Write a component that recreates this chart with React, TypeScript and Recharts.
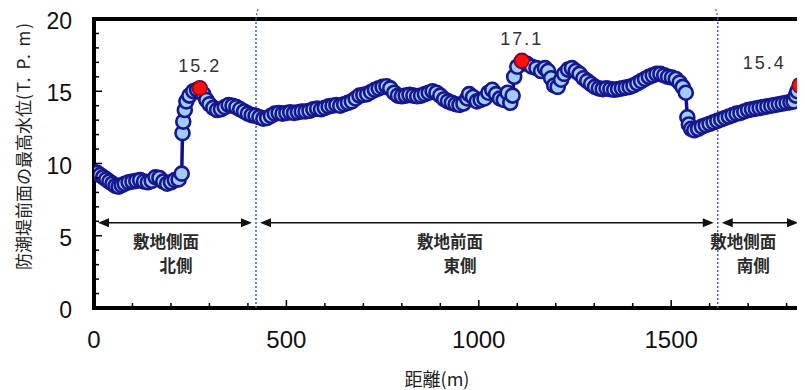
import React from 'react';
import { LineChart, Line, XAxis, YAxis, ReferenceArea, ReferenceLine, ReferenceDot } from 'recharts';

// distance along the seawall (m)
const distances = [
  0, 8, 16, 24, 32, 40, 48, 56, 64, 72, 80, 90, 100, 110, 120, 130, 140, 150, 160, 170,
  180, 190, 200, 210, 220, 228, 230, 232, 236, 240, 248, 258, 268, 275, 284, 292, 300, 310, 320, 330,
  340, 350, 360, 370, 380, 390, 400, 410, 420, 430, 440, 450, 460, 470, 480, 490, 500, 510, 520, 530,
  540, 550, 560, 570, 580, 590, 600, 610, 620, 630, 640, 650, 660, 670, 680, 690, 700, 710, 720, 730,
  740, 750, 760, 770, 780, 790, 800, 810, 820, 830, 840, 850, 860, 870, 880, 890, 900, 910, 920, 930,
  940, 950, 960, 970, 975, 985, 995, 1005, 1015, 1025, 1035, 1045, 1055, 1065, 1075, 1082, 1088, 1092, 1100, 1112,
  1125, 1138, 1150, 1162, 1172, 1180, 1188, 1196, 1205, 1214, 1222, 1232, 1242, 1252, 1262, 1272, 1282, 1292, 1302, 1312,
  1322, 1332, 1342, 1352, 1362, 1372, 1382, 1392, 1402, 1412, 1422, 1432, 1442, 1452, 1462, 1472, 1482, 1492, 1502, 1512,
  1522, 1530, 1538, 1542, 1546, 1552, 1560, 1570, 1580, 1590, 1600, 1610, 1620, 1630, 1640, 1650, 1660, 1670, 1680, 1690,
  1700, 1710, 1720, 1730, 1740, 1750, 1760, 1770, 1780, 1790, 1800, 1810, 1818, 1824, 1828, 1834,
];

// maximum water level in front of the seawall (T.P. m)
const levels = [
  9.4, 9.35, 9.2, 9.05, 8.9, 8.75, 8.6, 8.45, 8.4, 8.5, 8.6, 8.7, 8.75, 8.8, 8.85, 8.75, 8.7, 8.8, 9.05, 9.0,
  8.75, 8.6, 8.7, 8.85, 8.9, 9.3, 12.1, 12.9, 13.7, 14.3, 14.7, 15.0, 15.1, 15.2, 14.8, 14.4, 14.1, 13.85, 13.7, 13.75,
  13.9, 14.05, 14.0, 13.9, 13.75, 13.6, 13.45, 13.35, 13.3, 13.2, 13.1, 13.15, 13.3, 13.45, 13.5, 13.45, 13.5, 13.55, 13.5, 13.55,
  13.6, 13.6, 13.65, 13.75, 13.8, 13.75, 13.85, 13.95, 14.0, 14.05, 14.0, 14.1, 14.2, 14.3, 14.5, 14.7, 14.75, 14.8, 14.95, 15.1,
  15.2, 15.3, 15.35, 15.2, 14.9, 14.7, 14.65, 14.7, 14.75, 14.7, 14.65, 14.7, 14.8, 14.9, 15.0, 14.9, 14.7, 14.45, 14.3, 14.2,
  14.1, 14.05, 14.15, 14.5, 14.8, 14.6, 14.3, 14.4, 14.5, 14.9, 15.1, 14.8, 14.5, 14.4, 14.9, 14.2, 14.7, 16.0, 16.7, 17.1,
  16.9, 16.7, 16.6, 16.4, 16.6, 16.4, 15.9, 15.4, 15.3, 15.8, 16.2, 16.5, 16.6, 16.4, 16.2, 15.9, 15.7, 15.5, 15.3, 15.2,
  15.15, 15.2, 15.15, 15.1, 15.15, 15.2, 15.25, 15.3, 15.4, 15.55, 15.7, 15.85, 16.0, 16.1, 16.2, 16.2, 16.1, 16.0, 15.95, 15.85,
  15.6, 15.3, 14.9, 13.2, 12.7, 12.4, 12.3, 12.4, 12.55, 12.65, 12.75, 12.85, 12.95, 13.05, 13.15, 13.25, 13.35, 13.45, 13.5, 13.6,
  13.7, 13.75, 13.8, 13.85, 13.9, 13.95, 14.0, 14.05, 14.1, 14.15, 14.2, 14.25, 14.3, 14.7, 15.0, 15.4,
];

// highlighted maxima
const peakDistances = [275, 1112, 1834];
const peakLevels = [15.2, 17.1, 15.4];

// section boundaries (m) and section names
const sectionBounds = [0, 421, 1621, 1840];
const sectionLine1 = ['敷地側面', '敷地前面', '敷地側面'];
const sectionLine2 = ['北側', '東側', '南側'];
const sectionLabelX = [187, 925, 1687];
const sectionArrowLevel = 5.9;
const sectionLabelLevel = 4.5;

const xTicks = [0, 100, 200, 300, 400, 500, 600, 700, 800, 900, 1000, 1100, 1200, 1300, 1400, 1500, 1600, 1700, 1800];
const xLabelTicks = [0, 500, 1000, 1500];
const yTicks = [0, 1, 2, 3, 4, 5, 6, 7, 8, 9, 10, 11, 12, 13, 14, 15, 16, 17, 18, 19, 20];
const yLabelTicks = [0, 5, 10, 15, 20];

const xTitle = '距離(m)';
const yTitle = '防潮堤前面の最高水位';
const yTitleUnit = '(T. P. m)';

const data = distances.map((d, i) => ({ d, v: levels[i] }));

const NUM_FONT = '"Liberation Sans", Arial, sans-serif';
const JP_FONT = '"Noto Sans CJK JP", "Noto Sans", sans-serif';

const XTick = (p: any) => {
  const { x, y, payload } = p;
  const major = xLabelTicks.includes(payload.value);
  return (
    <g>
      <line x1={x} x2={x} y1={y - 2} y2={y - (major ? 8 : 5)} stroke="#000" strokeWidth={1.5} />
      {major && (
        <text x={x} y={y + 40} textAnchor="middle" fontSize={24} fontFamily={NUM_FONT} fill="#111">
          {payload.value}
        </text>
      )}
    </g>
  );
};

const YTick = (p: any) => {
  const { x, y, payload } = p;
  const major = yLabelTicks.includes(payload.value);
  return (
    <g>
      <line x1={x + 2} x2={x + (major ? 8 : 5)} y1={y} y2={y} stroke="#000" strokeWidth={1.5} />
      {major && (
        <text x={x - 22} y={y + 10} textAnchor="end" fontSize={23} fontFamily={NUM_FONT} fill="#111">
          {payload.value}
        </text>
      )}
    </g>
  );
};

const YTitle = (p: any) => {
  const vb = p.viewBox || { x: 0, y: 0, width: 0, height: 0 };
  const cx = vb.x - 12;
  const cy = vb.y + vb.height / 2 - 18;
  return (
    <text
      x={cx}
      y={cy}
      transform={`rotate(-90, ${cx}, ${cy})`}
      textAnchor="middle"
      dominantBaseline="central"
      fontSize={17}
      fontFamily={JP_FONT}
      fill="#222"
    >
      {yTitle}
      <tspan letterSpacing={2}>{yTitleUnit}</tspan>
    </text>
  );
};

const XTitle = (p: any) => {
  const vb = p.viewBox || { x: 0, y: 0, width: 0, height: 0 };
  return (
    <text
      x={vb.x + vb.width / 2 - 11}
      y={vb.y + 78}
      textAnchor="middle"
      fontSize={18}
      fontFamily={JP_FONT}
      fill="#222"
    >
      {xTitle}
    </text>
  );
};

const DividerShape = (dir: number) => (p: any) => {
  const { x1, y1, x2, y2 } = p;
  const top = Math.min(y1, y2);
  const bottom = Math.max(y1, y2);
  return (
    <g>
      <line x1={x1} x2={x2} y1={bottom} y2={top} stroke="#3a5ccc" strokeWidth={1.5} strokeDasharray="2 2" />
      <path
        d={`M ${x1} ${top} Q ${x1 + dir * 1} ${top - 10} ${x1 + dir * 6} ${top - 20}`}
        fill="none"
        stroke="#3a5ccc"
        strokeWidth={1.2}
        strokeDasharray="2 2"
      />
    </g>
  );
};

const ArrowShape = (p: any) => {
  const { x1, y1, x2 } = p;
  const a = Math.min(x1, x2) + 4;
  const b = Math.max(x1, x2) - 4;
  const y = y1;
  return (
    <g>
      <line x1={a + 6} x2={b - 6} y1={y} y2={y} stroke="#111" strokeWidth={1.5} />
      <polygon points={`${a},${y} ${a + 11},${y - 4.5} ${a + 11},${y + 4.5}`} fill="#111" />
      <polygon points={`${b},${y} ${b - 11},${y - 4.5} ${b - 11},${y + 4.5}`} fill="#111" />
    </g>
  );
};

const SectionLabel = (i: number) => (p: any) => {
  const { cx, cy } = p;
  return (
    <g fontSize={16.5} fontWeight={700} fontFamily={JP_FONT} fill="#2a2a2a" textAnchor="middle">
      <text x={cx} y={cy + 5}>
        {sectionLine1[i]}
      </text>
      <text x={cx + 10} y={cy + 29}>
        {sectionLine2[i]}
      </text>
    </g>
  );
};

const PeakShape = (i: number) => (p: any) => {
  const { cx, cy } = p;
  const atEnd = peakDistances[i] > 1800;
  return (
    <g>
      <circle cx={cx} cy={cy} r={7} fill="#ff1010" stroke="#b00000" strokeWidth={1.5} />
      <text
        x={atEnd ? cx - 14 : cx}
        y={cy - 16}
        textAnchor={atEnd ? 'end' : 'middle'}
        fontSize={18}
        letterSpacing={2}
        fontFamily={NUM_FONT}
        fill="#333"
      >
        {peakLevels[i].toFixed(1)}
      </text>
    </g>
  );
};

export default function App() {
  return (
    <LineChart
      width={797}
      height={382}
      data={data}
      margin={{ top: 11, right: 3, left: 26, bottom: 32 }}
      style={{ overflow: 'visible' }}
    >
      <XAxis
        dataKey="d"
        type="number"
        domain={[0, 1840]}
        ticks={xTicks}
        tick={<XTick />}
        tickSize={0}
        tickMargin={0}
        axisLine={false}
        tickLine={false}
        height={50}
        allowDataOverflow
        interval={0}
        label={<XTitle />}
      />
      <YAxis
        type="number"
        domain={[0, 20]}
        ticks={yTicks}
        tick={<YTick />}
        tickSize={0}
        tickMargin={0}
        axisLine={false}
        tickLine={false}
        width={60}
        interval={0}
        allowDataOverflow
        label={<YTitle />}
      />
      {sectionBounds.slice(1, -1).map((b, i) => (
        <ReferenceLine key={`div${i}`} x={b} ifOverflow="visible" shape={DividerShape(i === 0 ? 1 : -1)} />
      ))}
      {sectionBounds.slice(0, -1).map((b, i) => (
        <ReferenceLine
          key={`arr${i}`}
          segment={[
            { x: b, y: sectionArrowLevel },
            { x: sectionBounds[i + 1], y: sectionArrowLevel },
          ]}
          ifOverflow="visible"
          shape={ArrowShape}
        />
      ))}
      {sectionLabelX.map((lx, i) => (
        <ReferenceDot key={`lab${i}`} x={lx} y={sectionLabelLevel} r={0} ifOverflow="visible" shape={SectionLabel(i)} />
      ))}
      <Line
        type="linear"
        dataKey="v"
        stroke="#12128a"
        strokeWidth={3.5}
        dot={{ r: 7, fill: '#9fcdf5', stroke: '#16168e', strokeWidth: 2.6 }}
        isAnimationActive={false}
      />
      {peakDistances.map((pd, i) => (
        <ReferenceDot key={`pk${i}`} x={pd} y={peakLevels[i]} r={7} ifOverflow="visible" shape={PeakShape(i)} />
      ))}
      <ReferenceArea
        x1={0}
        x2={1840}
        y1={0}
        y2={20}
        fill="none"
        fillOpacity={0}
        stroke="#000"
        strokeWidth={4}
        ifOverflow="visible"
      />
    </LineChart>
  );
}
